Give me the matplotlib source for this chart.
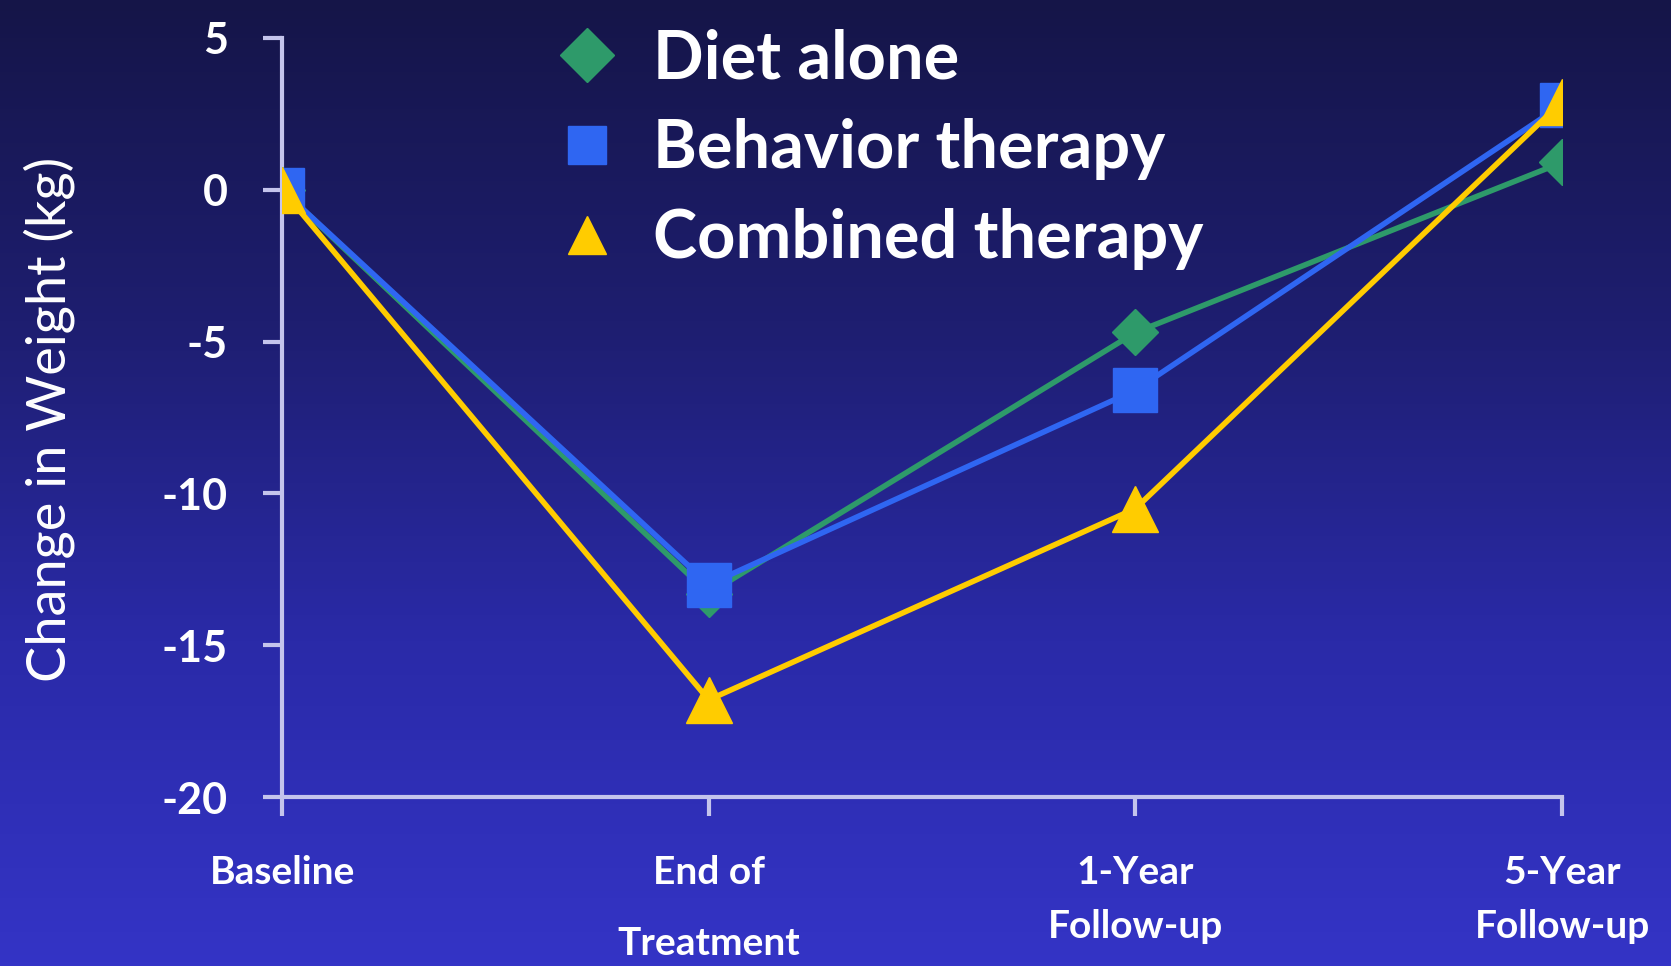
import numpy as np
import matplotlib
matplotlib.use("Agg")
import matplotlib.pyplot as plt
from matplotlib.colors import LinearSegmentedColormap

categories = ["Baseline", "End of\nTreatment", "1-Year\nFollow-up", "5-Year\nFollow-up"]
diet_alone = [0.0, -13.3, -4.7, 0.9]
behavior_therapy = [0.0, -13.0, -6.6, 2.8]
combined_therapy = [0.0, -16.8, -10.5, 2.9]
yticks = [5, 0, -5, -10, -15, -20]

plt.rcParams['font.family'] = ['Lato', 'DejaVu Sans']

fig = plt.figure(figsize=(16.71, 9.66), dpi=100)

# gradient background
bg = fig.add_axes([0, 0, 1, 1], zorder=-10)
cmap = LinearSegmentedColormap.from_list("bg", ["#151548", "#1e1e70", "#2a2aa8", "#3434c6"])
grad = np.linspace(0, 1, 256).reshape(-1, 1)
bg.imshow(grad, aspect="auto", cmap=cmap, extent=[0, 1, 0, 1], origin="upper")
bg.axis("off")

ax = fig.add_axes([0.1688, 0.1749, 0.9348 - 0.1688, 0.9607 - 0.1749])
ax.patch.set_alpha(0)

x = np.arange(len(categories))
green = "#2e9a6a"
blue = "#2f66f2"
yellow = "#ffcc00"

ax.plot(x, diet_alone, color=green, lw=4, marker="D", ms=23, mec=green, label="Diet alone", zorder=3)
ax.plot(x, behavior_therapy, color=blue, lw=4, marker="s", ms=31, mec=blue, label="Behavior therapy", zorder=4)
ax.plot(x, combined_therapy, color=yellow, lw=4, marker="^", ms=33, mec=yellow, label="Combined therapy", zorder=5)

ax.set_xlim(0, 3)
ax.set_ylim(-20, 5)
ax.set_yticks(yticks)
ax.set_yticklabels([str(v) for v in yticks])
ax.set_xticks(x)
ax.set_xticklabels([])

for s in ["top", "right"]:
    ax.spines[s].set_visible(False)
axcol = "#c4c4ec"
for s in ["left", "bottom"]:
    ax.spines[s].set_color(axcol)
    ax.spines[s].set_linewidth(3)
    ax.spines[s].set_clip_on(False)

ax.tick_params(axis="both", colors=axcol, width=3, length=14)
ax.tick_params(axis="y", labelcolor="white", labelsize=31, pad=25)
for lab in ax.get_yticklabels():
    lab.set_fontweight("bold")

spacings = [1.0, 2.25, 1.68, 1.68]
for xi, lab, sp in zip(x, categories, spacings):
    ax.text(xi, -21.9, lab, ha="center", va="top", color="white", fontsize=28,
            fontweight="bold", linespacing=sp, clip_on=False)

ax.set_ylabel("Change in Weight (kg)", color="white", fontsize=39)
ax.yaxis.set_label_coords(-0.162, 0.497)

leg = ax.legend(loc="upper left", bbox_to_anchor=(0.165, 1.092), frameon=False,
                labelcolor="white", prop={"size": 48, "weight": "bold"},
                handlelength=1.0, handletextpad=0.5, labelspacing=0.42)
for h in leg.legend_handles:
    h.set_linestyle("none")
    h.set_markersize(27)

fig.savefig("out.png", dpi=100)
